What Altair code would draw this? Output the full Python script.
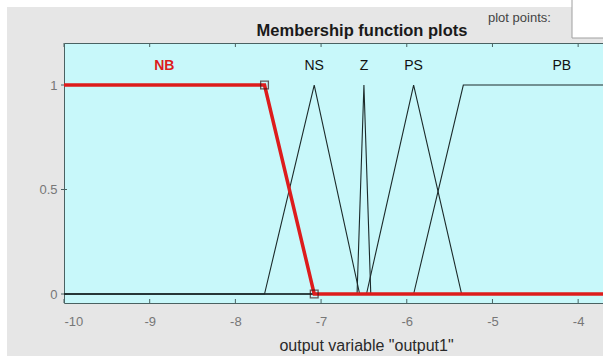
import altair as alt
import pandas as pd

# Output variable "output1": universe and membership functions
universe = [-10.0, -3.04]
mf_names = ["NB", "NS", "Z", "PS", "PB"]
mf_types = ["trapmf", "trimf", "trimf", "trimf", "trapmf"]
mf_params = [
    [-10.0, -10.0, -7.66, -7.08],
    [-7.66, -7.08, -6.55],
    [-6.58, -6.50, -6.42],
    [-6.47, -5.92, -5.36],
    [-5.92, -5.34, -3.04, -3.04],
]
selected_mf = "NB"

x_ticks = [-10, -9, -8, -7, -6, -5, -4]
y_ticks = [0, 0.5, 1]
x_view = [-10.0, -3.71]
y_view = [-0.043, 1.201]

AXIS_COLOR = "#4a6262"
LINE_COLOR = "#1c2a2a"
RED = "#dd1c1c"
GREY_TEXT = "#777777"


def as_trap(kind, p):
    return list(p) if kind == "trapmf" else [p[0], p[1], p[1], p[2]]


def membership(x, p):
    a, b, c, d = p
    if b <= x <= c:
        return 1.0
    if a < x < b:
        return (x - a) / (b - a)
    if c < x < d:
        return (d - x) / (d - c)
    return 0.0


rows = []
peaks = []
for name, kind, p in zip(mf_names, mf_types, mf_params):
    t = as_trap(kind, p)
    xs = sorted(set([universe[0], universe[1]] + [v for v in t if universe[0] <= v <= universe[1]]))
    for i, xv in enumerate(xs):
        rows.append({"mf": name, "order": i, "x": xv, "mu": membership(xv, t)})
    peaks.append({"mf": name, "x": (t[1] + t[2]) / 2})

curves = pd.DataFrame(rows)
labels = pd.DataFrame(peaks)
sel = as_trap(mf_types[mf_names.index(selected_mf)], mf_params[mf_names.index(selected_mf)])
handles = pd.DataFrame({"x": [sel[2], sel[3]], "mu": [1.0, 0.0]})
one = pd.DataFrame({"k": [0]})

xs = alt.Scale(domain=x_view, nice=False, zero=False)
ys = alt.Scale(domain=y_view, nice=False, zero=False)

x_axis = alt.Axis(
    values=x_ticks, labelExpr="'' + datum.value", ticks=False, domain=False, grid=False,
    labelColor=GREY_TEXT, labelFontSize=13, labelPadding=12, labelFont="Liberation Sans",
    title='output variable "output1"', titleFontSize=16, titleFontWeight="normal",
    titleColor="#2a2a2a", titleFont="Liberation Sans", titleX=302, titleY=42,
    titleAlign="center", titleBaseline="middle",
)
y_axis = alt.Axis(
    values=y_ticks, labelExpr="'' + datum.value", ticks=False, domain=False, grid=False,
    labelColor=GREY_TEXT, labelFontSize=13, labelPadding=7, labelFont="Liberation Sans",
    title=None,
)

# window chrome around the axes
top_strip = alt.Chart(one).mark_rect(color="white").encode(
    x=alt.value(-64), x2=alt.value(539), y=alt.value(-43), y2=alt.value(-36))
left_strip = alt.Chart(one).mark_rect(color="white").encode(
    x=alt.value(-64), x2=alt.value(-57), y=alt.value(-43), y2=alt.value(313))
points_box = alt.Chart(one).mark_rect(fill="white", stroke="#a0a0a0", strokeWidth=1).encode(
    x=alt.value(508), x2=alt.value(545), y=alt.value(-44), y2=alt.value(-5))
points_text = alt.Chart(one).mark_text(
    text="plot points:", align="left", baseline="middle", fontSize=13,
    font="Liberation Sans", color="#444444").encode(x=alt.value(424), y=alt.value(-25))
title_text = alt.Chart(one).mark_text(
    text="Membership function plots", align="center", baseline="middle", fontSize=16.5,
    fontWeight="bold", font="Liberation Sans", color="#1a1a1a").encode(
    x=alt.value(298), y=alt.value(-12))

# inward tick marks
tick_df = pd.DataFrame({"t": x_ticks})
xtick_bottom = alt.Chart(tick_df).mark_rule(color=AXIS_COLOR, strokeWidth=1).encode(
    x=alt.X("t:Q", scale=xs, axis=x_axis), y=alt.value(260), y2=alt.value(256))
xtick_top = alt.Chart(tick_df).mark_rule(color=AXIS_COLOR, strokeWidth=1).encode(
    x=alt.X("t:Q", scale=xs), y=alt.value(0), y2=alt.value(4))
ytick = alt.Chart(pd.DataFrame({"t": y_ticks})).mark_rule(color=AXIS_COLOR, strokeWidth=1).encode(
    y=alt.Y("t:Q", scale=ys, axis=y_axis), x=alt.value(-3), x2=alt.value(3))

others = alt.Chart(curves).transform_filter(alt.datum.mf != selected_mf).mark_line(
    color=LINE_COLOR, strokeWidth=1.1, clip=True).encode(
    x=alt.X("x:Q", scale=xs), y=alt.Y("mu:Q", scale=ys), detail="mf:N", order="order:Q")
chosen = alt.Chart(curves).transform_filter(alt.datum.mf == selected_mf).mark_line(
    color=RED, strokeWidth=3.5, clip=True).encode(
    x=alt.X("x:Q", scale=xs), y=alt.Y("mu:Q", scale=ys), order="order:Q")
handle_pts = alt.Chart(handles).mark_point(
    shape="square", filled=False, size=60, color="#3a1616", strokeWidth=1.3).encode(
    x=alt.X("x:Q", scale=xs), y=alt.Y("mu:Q", scale=ys))

name_labels = alt.Chart(labels).transform_filter(alt.datum.mf != selected_mf).mark_text(
    fontSize=14, font="Liberation Sans", color="#111111", baseline="middle").encode(
    x=alt.X("x:Q", scale=xs), y=alt.datum(1.09), text="mf:N")
sel_label = alt.Chart(labels).transform_filter(alt.datum.mf == selected_mf).mark_text(
    fontSize=14, font="Liberation Sans", fontWeight="bold", color=RED, baseline="middle").encode(
    x=alt.X("x:Q", scale=xs), y=alt.datum(1.09), text="mf:N")

chart = alt.layer(
    top_strip, left_strip, points_box, points_text, title_text,
    xtick_bottom, xtick_top, ytick,
    others, chosen, handle_pts, name_labels, sel_label,
).properties(
    width=539, height=260,
    padding={"left": 64, "top": 43, "right": 0, "bottom": 53},
    autosize=alt.AutoSizeParams(type="none"),
    background="#e6e6e6",
).configure_view(
    fill="#c8f8fa", stroke=AXIS_COLOR, strokeWidth=1,
)

chart.save("out.html", embed_options={"renderer": "svg", "actions": False})
